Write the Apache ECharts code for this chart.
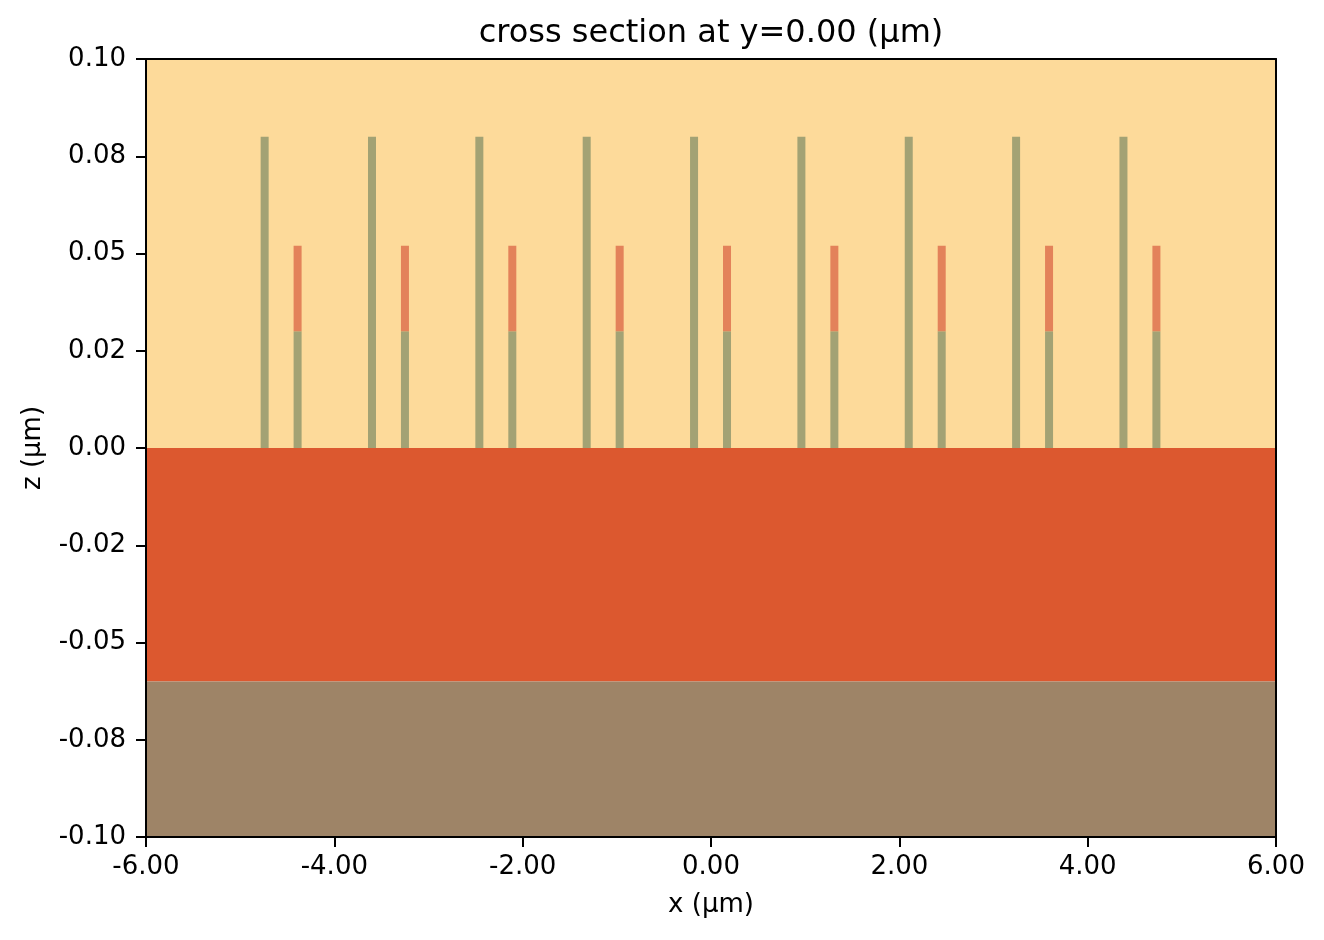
<!DOCTYPE html>
<html>
<head>
<meta charset="utf-8">
<script src="https://cdn.jsdelivr.net/npm/echarts@6/dist/echarts.min.js"></script>
<style>
	html, body { margin: 0; padding: 0; background: #fff; }
	#mychart { width: 1324px; height: 940px; }
</style>
</head>
<body>
<div id="mychart"></div>
<script>
// 坐标范围 (μm)
var xRange = [-6, 6];
var zRange = [-0.1, 0.1];
var yTickLabels = ['-0.10', '-0.08', '-0.05', '-0.02', '0.00', '0.02', '0.05', '0.08', '0.10'];

// 分层: [zmin, zmax]
var airLayer = [0, 0.1];
var topLayer = [-0.06, 0];
var bottomLayer = [-0.1, -0.06];

// 柱子
var barWidth = 0.085;
var tallX = [-4.74, -3.60, -2.46, -1.32, -0.18, 0.96, 2.10, 3.24, 4.38];
var tallZ = [0, 0.08];
var shortX = [-4.39, -3.25, -2.11, -0.97, 0.17, 1.31, 2.45, 3.59, 4.73];
var shortLowZ = [0, 0.03];
var shortHighZ = [0.03, 0.052];

var font = 'DejaVu Sans';

function layerData(z) {
	return [[xRange[0], xRange[1], z[0], z[1]]];
}

function barData(xs, z) {
	var arr = [];
	for(var i = 0; i < xs.length; i++) {
		arr.push([xs[i] - barWidth / 2, xs[i] + barWidth / 2, z[0], z[1]]);
	}
	return arr;
}

function renderRect(params, api) {
	var p1 = api.coord([api.value(0), api.value(3)]);
	var p2 = api.coord([api.value(1), api.value(2)]);
	return {
		type: 'rect',
		shape: echarts.graphic.clipRectByRect({
			x: p1[0],
			y: p1[1],
			width: p2[0] - p1[0],
			height: p2[1] - p1[1]
		}, {
			x: params.coordSys.x,
			y: params.coordSys.y,
			width: params.coordSys.width,
			height: params.coordSys.height
		}),
		style: api.style()
	};
}

function rectSeries(data, color) {
	return {
		type: 'custom',
		renderItem: renderRect,
		encode: { x: [0, 1], y: [2, 3] },
		itemStyle: { color: color },
		silent: true,
		data: data
	};
}

var myChart = echarts.init(document.getElementById('mychart'));

var axisText = { color: '#000', fontSize: 26, fontFamily: font };

var option = {
	animation: false,
	title: {
		text: 'cross section at y=0.00 (μm)',
		left: 706,
		textAlign: 'center',
		top: 13,
		textStyle: { color: '#000', fontSize: 32, fontWeight: 'normal', fontFamily: font }
	},
	grid: {
		left: 146,
		right: 48,
		top: 59,
		bottom: 103
	},
	xAxis: [{
		type: 'value',
		min: xRange[0],
		max: xRange[1],
		interval: 2,
		z: 10,
		name: 'x (μm)',
		nameLocation: 'middle',
		nameGap: 55,
		nameTextStyle: axisText,
		axisLine: { onZero: false, lineStyle: { color: '#000', width: 2 } },
		axisTick: { length: 10, lineStyle: { color: '#000', width: 2 } },
		axisLabel: {
			color: '#000',
			fontSize: 26,
			fontFamily: font,
			margin: 17,
			formatter: function(v) { return v.toFixed(2); }
		},
		splitLine: { show: false }
	}, {
		type: 'value',
		position: 'top',
		min: xRange[0],
		max: xRange[1],
		z: 10,
		axisLine: { onZero: false, lineStyle: { color: '#000', width: 2 } },
		axisTick: { show: false },
		axisLabel: { show: false },
		splitLine: { show: false }
	}],
	yAxis: [{
		type: 'value',
		min: zRange[0],
		max: zRange[1],
		interval: 0.025,
		z: 10,
		name: 'z (μm)',
		nameLocation: 'middle',
		nameGap: 100,
		nameTextStyle: axisText,
		axisLine: { onZero: false, lineStyle: { color: '#000', width: 2 } },
		axisTick: { length: 10, lineStyle: { color: '#000', width: 2 } },
		axisLabel: {
			color: '#000',
			fontSize: 26,
			fontFamily: font,
			margin: 20,
			formatter: function(v) {
				return yTickLabels[Math.round((v - zRange[0]) / 0.025)];
			}
		},
		splitLine: { show: false }
	}, {
		type: 'value',
		position: 'right',
		min: zRange[0],
		max: zRange[1],
		z: 10,
		axisLine: { onZero: false, lineStyle: { color: '#000', width: 2 } },
		axisTick: { show: false },
		axisLabel: { show: false },
		splitLine: { show: false }
	}],
	series: [
		rectSeries(layerData(airLayer), '#FDDA9A'),
		rectSeries(layerData(topLayer), '#DC582F'),
		rectSeries(layerData(bottomLayer), '#9E8467'),
		rectSeries(barData(tallX, tallZ), '#A3A274'),
		rectSeries(barData(shortX, shortLowZ), '#A3A274'),
		rectSeries(barData(shortX, shortHighZ), '#E3825A')
	]
};

myChart.setOption(option);
window.onresize = function() {
	myChart.resize();
}
</script>
</body>
</html>
